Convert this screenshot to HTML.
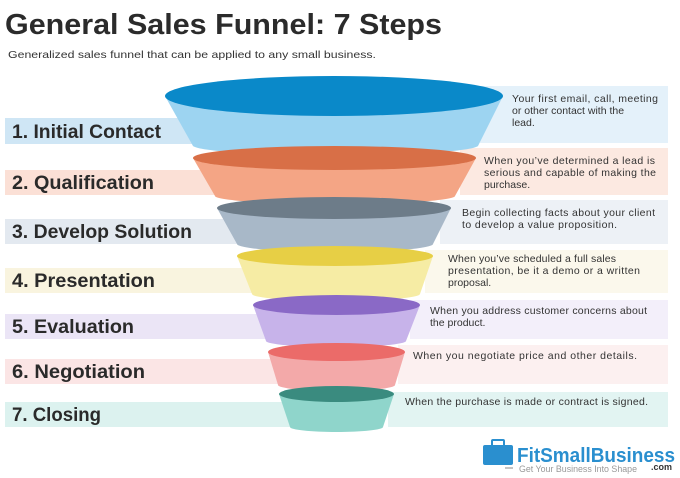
<!DOCTYPE html>
<html><head><style>
html,body{margin:0;padding:0;background:#fff;}
svg{display:block;}
.t{font-family:"Liberation Sans",sans-serif;}
.lab{font-family:"Liberation Sans",sans-serif;font-weight:bold;font-size:19px;fill:#2a2a2a;}
.d{font-family:"Liberation Sans",sans-serif;font-size:10.5px;fill:#333;}
</style></head><body>
<svg width="680" height="478" viewBox="0 0 680 478" xmlns="http://www.w3.org/2000/svg">
<text x="5" y="34" class="t" font-size="29" font-weight="bold" fill="#2b2b2b" textLength="437" lengthAdjust="spacingAndGlyphs">General Sales Funnel: 7 Steps</text>
<text x="8" y="58" class="t" font-size="10.5" fill="#333" textLength="368" lengthAdjust="spacingAndGlyphs">Generalized sales funnel that can be applied to any small business.</text>

<rect x="5" y="118" width="200" height="26" fill="#cfe6f5"/>
<rect x="5" y="170" width="215" height="25" fill="#fbe0d6"/>
<rect x="5" y="219" width="235" height="25" fill="#e3e9f0"/>
<rect x="5" y="268" width="250" height="25" fill="#f9f4df"/>
<rect x="5" y="314" width="262" height="25" fill="#ebe5f6"/>
<rect x="5" y="359" width="275" height="25" fill="#fbe5e5"/>
<rect x="5" y="402" width="288" height="25" fill="#dcf2ef"/>
<rect x="480" y="86" width="188" height="57" fill="#e4f1fa"/>
<rect x="460" y="148" width="208" height="47" fill="#fce9e1"/>
<rect x="440" y="200" width="228" height="44" fill="#edf1f6"/>
<rect x="425" y="250" width="243" height="43" fill="#fbf8ec"/>
<rect x="410" y="300" width="258" height="39" fill="#f3effa"/>
<rect x="398" y="345" width="270" height="39" fill="#fcf0f0"/>
<rect x="388" y="392" width="280" height="35" fill="#e2f4f2"/>

<path d="M165,96 L193,146 A143,10 0 0 0 478,146 L503,96 Z" fill="#9dd4f1"/>
<ellipse cx="334" cy="96" rx="169" ry="20" fill="#0a89c9"/>
<path d="M193,158 L215,196 A120,8 0 0 0 455,196 L476,158 Z" fill="#f4a585"/>
<ellipse cx="334.5" cy="158" rx="141.5" ry="12" fill="#d86f47"/>
<path d="M217,208 L237,244 A98,8 0 0 0 433,244 L451,208 Z" fill="#a8b8c8"/>
<ellipse cx="334" cy="208" rx="117" ry="11" fill="#6d7c89"/>
<path d="M237,256 L252,294 A84,7 0 0 0 420,294 L433,256 Z" fill="#f6eca4"/>
<ellipse cx="335" cy="256" rx="98" ry="10" fill="#e7cf45"/>
<path d="M253,305 L266,341 A70,6 0 0 0 406,341 L420,305 Z" fill="#c7b3ea"/>
<ellipse cx="336.5" cy="305" rx="83.5" ry="10" fill="#8a69c6"/>
<path d="M268,352 L278,385 A58.5,6 0 0 0 395,385 L405,352 Z" fill="#f3a9a9"/>
<ellipse cx="336.5" cy="352" rx="68.5" ry="9" fill="#eb6b69"/>
<path d="M279,394 L290,427 A46.5,5 0 0 0 383,427 L394,394 Z" fill="#8fd5cb"/>
<ellipse cx="336.5" cy="394" rx="57.5" ry="8" fill="#3a8b7f"/>

<text x="12" y="138" class="lab" textLength="149" lengthAdjust="spacingAndGlyphs">1. Initial Contact</text>
<text x="12" y="189" class="lab" textLength="142" lengthAdjust="spacingAndGlyphs">2. Qualification</text>
<text x="12" y="238" class="lab" textLength="180" lengthAdjust="spacingAndGlyphs">3. Develop Solution</text>
<text x="12" y="287" class="lab" textLength="143" lengthAdjust="spacingAndGlyphs">4. Presentation</text>
<text x="12" y="333" class="lab" textLength="122" lengthAdjust="spacingAndGlyphs">5. Evaluation</text>
<text x="12" y="378" class="lab" textLength="133" lengthAdjust="spacingAndGlyphs">6. Negotiation</text>
<text x="12" y="421" class="lab" textLength="89" lengthAdjust="spacingAndGlyphs">7. Closing</text>

<text class="d"><tspan x="512" y="102" textLength="146">Your first email, call, meeting</tspan><tspan x="512" y="114">or other contact with the</tspan><tspan x="512" y="126">lead.</tspan></text>
<text class="d"><tspan x="484" y="164" textLength="171">When you’ve determined a lead is</tspan><tspan x="484" y="176" textLength="172">serious and capable of making the</tspan><tspan x="484" y="188">purchase.</tspan></text>
<text class="d"><tspan x="462" y="216" textLength="193">Begin collecting facts about your client</tspan><tspan x="462" y="228" textLength="155">to develop a value proposition.</tspan></text>
<text class="d"><tspan x="448" y="262" textLength="168">When you’ve scheduled a full sales</tspan><tspan x="448" y="274" textLength="192">presentation, be it a demo or a written</tspan><tspan x="448" y="286">proposal.</tspan></text>
<text class="d"><tspan x="430" y="314" textLength="217">When you address customer concerns about</tspan><tspan x="430" y="326">the product.</tspan></text>
<text class="d"><tspan x="413" y="359" textLength="224">When you negotiate price and other details.</tspan></text>
<text class="d"><tspan x="405" y="405" textLength="243">When the purchase is made or contract is signed.</tspan></text>

<rect x="483" y="445" width="30" height="20" rx="2" fill="#2a8fcf"/>
<rect x="492" y="440" width="12" height="6" rx="1" fill="none" stroke="#2a8fcf" stroke-width="2"/>
<line x1="505" y1="468" x2="513" y2="468" stroke="#888" stroke-width="1"/>
<text x="517" y="462" class="t" font-size="20" font-weight="bold" fill="#2a8fcf" textLength="158" lengthAdjust="spacingAndGlyphs">FitSmallBusiness</text>
<text x="519" y="472" class="t" font-size="9" fill="#999" textLength="118" lengthAdjust="spacingAndGlyphs">Get Your Business Into Shape</text>
<text x="651" y="470" class="t" font-size="9" font-weight="bold" fill="#333">.com</text>
</svg>
</body></html>
